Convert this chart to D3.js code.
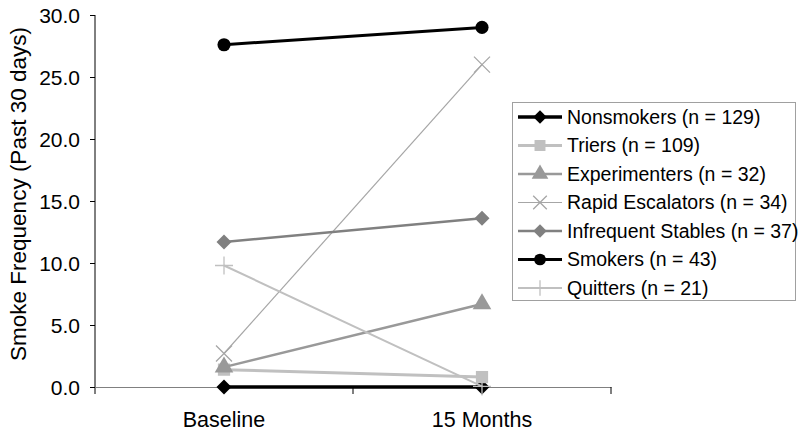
<!DOCTYPE html>
<html>
<head>
<meta charset="utf-8">
<script src="https://cdn.jsdelivr.net/npm/d3@7"></script>
<style>
  body { margin: 0; background: #fff; }
  svg { font-family: "Liberation Sans", Arial, sans-serif; }
</style>
</head>
<body>
<svg width="800" height="434"></svg>
<script>
const periods = ["Baseline", "15 Months"];
const groups = ["Nonsmokers (n = 129)", "Triers (n = 109)", "Experimenters (n = 32)",
  "Rapid Escalators (n = 34)", "Infrequent Stables (n = 37)", "Smokers (n = 43)", "Quitters (n = 21)"];
const nonsmokers = [0.0, 0.0];
const triers = [1.4, 0.8];
const experimenters = [1.6, 6.7];
const rapidEscalators = [2.7, 26.0];
const infrequentStables = [11.7, 13.6];
const smokers = [27.6, 29.0];
const quitters = [9.8, 0.05];
const yTicks = [0, 5, 10, 15, 20, 25, 30];

const seriesValues = [nonsmokers, triers, experimenters, rapidEscalators, infrequentStables, smokers, quitters];

// look of each series: colour, line width, marker
const styles = [
  { color: "#000000", width: 3.5, marker: "diamond", size: 150 },
  { color: "#c0c0c0", width: 3, marker: "square", size: 150 },
  { color: "#999999", width: 2.5, marker: "triangle", size: 150 },
  { color: "#a6a6a6", width: 1.2, marker: "cross", size: 8 },
  { color: "#808080", width: 2.5, marker: "diamond", size: 150 },
  { color: "#000000", width: 3, marker: "circle", size: 135 },
  { color: "#c0c0c0", width: 2, marker: "plus", size: 9 },
];

const svg = d3.select("svg");
const margin = { top: 15, left: 95, bottom: 47, right: 189 };
const width = +svg.attr("width"), height = +svg.attr("height");

const x = d3.scaleBand()
  .domain(periods)
  .range([margin.left, width - margin.right]);

const y = d3.scaleLinear()
  .domain([0, 30])
  .range([height - margin.bottom, margin.top]);

// y axis
svg.append("g")
  .attr("transform", `translate(${margin.left},0)`)
  .call(d3.axisLeft(y).tickValues(yTicks).tickFormat(d3.format(".1f")).tickSize(5).tickPadding(10))
  .call(g => g.select(".domain").attr("d", `M0,${y(30)}V${y(0) + 7}`).attr("stroke", "#000"))
  .call(g => g.selectAll("text").attr("font-size", "21px").attr("fill", "#000").attr("dy", "0.35em"))
  .attr("font-family", null);

// x axis
svg.append("g")
  .attr("transform", `translate(0,${y(0)})`)
  .call(d3.axisBottom(x).tickSize(0).tickPadding(25))
  .call(g => g.select(".domain").attr("stroke", "#808080"))
  .call(g => g.selectAll("text").attr("font-size", "21.5px").attr("fill", "#000"))
  .attr("font-family", null);

// band separators on the x axis
svg.append("g")
  .selectAll("line")
  .data(periods.slice(1).map(p => x(p)).concat([x.range()[1]]))
  .join("line")
  .attr("x1", d => d).attr("x2", d => d)
  .attr("y1", y(0)).attr("y2", y(0) + 7)
  .attr("stroke", "#000");

const cx = p => x(p) + x.bandwidth() / 2;

function drawMarker(g, s, px, py) {
  if (s.marker === "cross" || s.marker === "plus") {
    const r = s.size;
    const d = s.marker === "cross"
      ? `M${px - r},${py - r}L${px + r},${py + r}M${px - r},${py + r}L${px + r},${py - r}`
      : `M${px - r},${py}L${px + r},${py}M${px},${py - r}L${px},${py + r}`;
    g.append("path").attr("d", d).attr("stroke", s.color).attr("stroke-width", 1.3).attr("fill", "none");
  } else {
    const type = {
      square: d3.symbolSquare, triangle: d3.symbolTriangle, circle: d3.symbolCircle
    }[s.marker];
    const sym = s.marker === "diamond"
      ? d3.symbol(d3.symbolSquare, s.size * 0.75)
      : d3.symbol(type, s.size);
    g.append("path")
      .attr("d", sym())
      .attr("transform", `translate(${px},${py})` + (s.marker === "diamond" ? " rotate(45)" : ""))
      .attr("fill", s.color);
  }
}

const line = d3.line().x(d => cx(d.p)).y(d => y(d.v));

seriesValues.forEach((vals, i) => {
  const s = styles[i];
  const pts = periods.map((p, j) => ({ p, v: vals[j] }));
  const g = svg.append("g");
  g.append("path")
    .attr("d", line(pts))
    .attr("fill", "none")
    .attr("stroke", s.color)
    .attr("stroke-width", s.width);
  pts.forEach(d => drawMarker(g, s, cx(d.p), y(d.v)));
});

// y title
svg.append("text")
  .attr("transform", `translate(26,${(margin.top + y(0)) / 2 - 7}) rotate(-90)`)
  .attr("text-anchor", "middle")
  .attr("font-size", "22.5px")
  .attr("fill", "#000")
  .text("Smoke Frequency (Past 30 days)");

// legend
const legend = svg.append("g");
legend.append("rect")
  .attr("x", 512.5).attr("y", 102.5)
  .attr("width", 283).attr("height", 198)
  .attr("fill", "#fff").attr("stroke", "#a0a0a0");

const rowY = d3.scalePoint().domain(groups).range([117, 288]);

groups.forEach((name, i) => {
  const s = styles[i];
  const ry = rowY(name);
  const g = legend.append("g");
  g.append("line")
    .attr("x1", 518).attr("x2", 562)
    .attr("y1", ry).attr("y2", ry)
    .attr("stroke", s.color).attr("stroke-width", s.width);
  const ls = Object.assign({}, s, {
    size: (s.marker === "cross" || s.marker === "plus") ? s.size * 0.85 : s.size * 0.8
  });
  drawMarker(g, ls, 540, ry);
  g.append("text")
    .attr("x", 567).attr("y", ry)
    .attr("dy", "0.35em")
    .attr("font-size", "19.5px")
    .attr("fill", "#000")
    .text(name);
});
</script>
</body>
</html>
